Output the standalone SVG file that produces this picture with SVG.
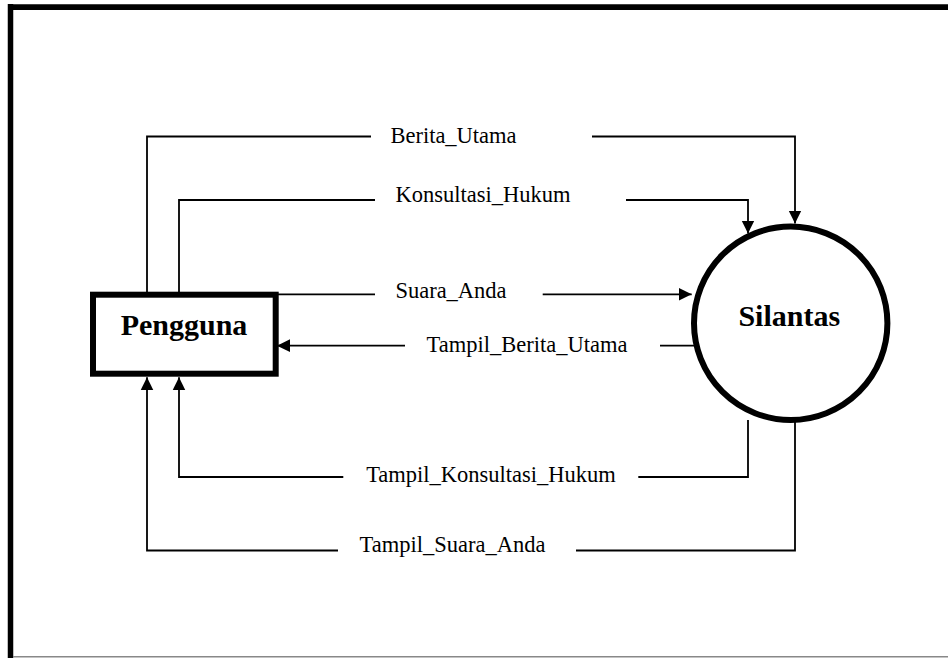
<svg xmlns="http://www.w3.org/2000/svg" width="948" height="658" viewBox="0 0 948 658">
<defs>
<style>
.ln{fill:none;stroke:#000;stroke-width:1.8}
.lbl{font-family:"Liberation Serif","Times New Roman",serif;font-size:22.5px;fill:#000;text-anchor:middle}
.nm{font-family:"Liberation Serif","Times New Roman",serif;font-size:30px;font-weight:bold;fill:#000;text-anchor:middle}
</style>
<marker id="ah" markerUnits="userSpaceOnUse" markerWidth="14" markerHeight="14" viewBox="0 0 14 14" refX="13" refY="7" orient="auto">
<path d="M0,0.6 L13,7 L0,13.4 Z" fill="#000"/>
</marker>
</defs>
<rect x="0" y="0" width="948" height="658" fill="#fff"/>
<g id="frame">
<line x1="10.5" y1="4" x2="10.5" y2="658" stroke="#000" stroke-width="5.5"/>
<line x1="8" y1="7.2" x2="948" y2="7.2" stroke="#000" stroke-width="5.7"/>
<line x1="13" y1="656.8" x2="948" y2="656.8" stroke="#888" stroke-width="1.5"/>
</g>
<g id="connectors">
<polyline class="ln" points="147,294 147,136.5 371,136.5"/>
<polyline class="ln" points="592,136.5 795,136.5 795,223.5" marker-end="url(#ah)"/>
<text class="lbl" x="453.5" y="143.3">Berita_Utama</text>
<polyline class="ln" points="179,294 179,200 375,200"/>
<polyline class="ln" points="626,200 748,200 748,233.5" marker-end="url(#ah)"/>
<text class="lbl" x="483" y="201.7">Konsultasi_Hukum</text>
<line class="ln" x1="278" y1="294.3" x2="375" y2="294.3"/>
<line class="ln" x1="542.7" y1="294.3" x2="691.7" y2="294.3" marker-end="url(#ah)"/>
<text class="lbl" x="451" y="298.3">Suara_Anda</text>
<line class="ln" x1="694" y1="345.7" x2="660" y2="345.7"/>
<line class="ln" x1="405" y1="345.7" x2="277" y2="345.7" marker-end="url(#ah)"/>
<text class="lbl" x="527" y="352.3">Tampil_Berita_Utama</text>
<polyline class="ln" points="748,420 748,477 638.3,477"/>
<polyline class="ln" points="343.3,477 179,477 179,377.3" marker-end="url(#ah)"/>
<text class="lbl" x="491" y="481.7">Tampil_Konsultasi_Hukum</text>
<polyline class="ln" points="795,420 795,550.5 576,550.5"/>
<polyline class="ln" points="338,550.5 147,550.5 147,377.3" marker-end="url(#ah)"/>
<text class="lbl" x="452.5" y="551.7">Tampil_Suara_Anda</text>
</g>
<g id="pengguna">
<rect x="93" y="294.7" width="182.7" height="79" fill="#fff" stroke="#000" stroke-width="6"/>
<text class="nm" x="184" y="335">Pengguna</text>
</g>
<g id="silantas">
<circle cx="790.7" cy="323.3" r="96.7" fill="#fff" stroke="#000" stroke-width="6"/>
<text class="nm" x="789.3" y="326">Silantas</text>
</g>
</svg>
